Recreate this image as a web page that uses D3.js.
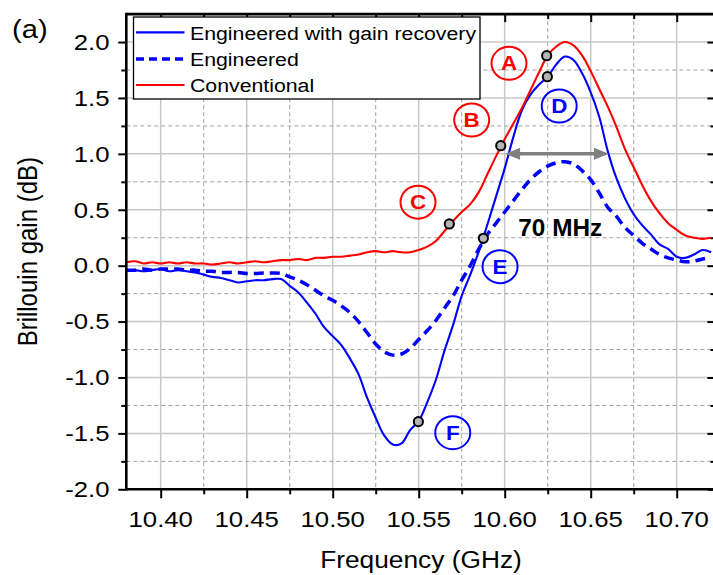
<!DOCTYPE html>
<html><head><meta charset="utf-8">
<script src="https://cdn.jsdelivr.net/npm/d3@7"></script>
<style>
body{margin:0;background:#fff}
svg{display:block}
text{font-family:"Liberation Sans",Arial,Helvetica,sans-serif}
</style>
</head><body>
<svg id="c" width="713" height="575"></svg>
<script>
// ---------------- data ----------------
const freq = [10.380,10.385,10.390,10.395,10.400,10.405,10.410,10.415,10.420,10.425,
  10.430,10.435,10.440,10.445,10.450,10.455,10.460,10.465,10.470,10.475,
  10.480,10.485,10.490,10.495,10.500,10.505,10.510,10.515,10.520,10.525,
  10.530,10.535,10.540,10.545,10.550,10.555,10.560,10.565,10.570,10.575,
  10.580,10.585,10.590,10.595,10.600,10.605,10.610,10.615,10.620,10.625,
  10.630,10.635,10.640,10.645,10.650,10.655,10.660,10.665,10.670,10.675,
  10.680,10.685,10.690,10.695,10.700,10.705,10.710,10.715,10.720];

const conventional = [0.03,0.04,0.02,0.03,0.02,0.03,0.02,0.03,0.02,0.02,
  0.01,0.02,0.03,0.02,0.03,0.04,0.03,0.04,0.05,0.05,
  0.06,0.05,0.07,0.07,0.08,0.08,0.09,0.10,0.12,0.13,
  0.12,0.13,0.12,0.12,0.14,0.17,0.22,0.31,0.40,0.48,
  0.55,0.66,0.82,0.98,1.13,1.27,1.41,1.57,1.73,1.88,
  1.96,2.00,1.97,1.88,1.74,1.58,1.42,1.24,1.04,0.88,
  0.72,0.58,0.47,0.38,0.32,0.27,0.25,0.24,0.25];

const engineeredRecovery = [-0.05,-0.04,-0.05,-0.04,-0.03,-0.05,-0.04,-0.05,-0.06,-0.08,
  -0.10,-0.11,-0.13,-0.15,-0.14,-0.13,-0.13,-0.12,-0.12,-0.18,
  -0.24,-0.33,-0.43,-0.55,-0.63,-0.71,-0.83,-0.97,-1.18,-1.36,
  -1.52,-1.60,-1.59,-1.47,-1.39,-1.22,-1.02,-0.76,-0.53,-0.27,
  -0.08,0.13,0.37,0.62,0.87,1.15,1.39,1.53,1.62,1.69,
  1.80,1.87,1.84,1.72,1.55,1.33,1.02,0.78,0.60,0.46,
  0.36,0.28,0.19,0.15,0.08,0.07,0.10,0.14,0.12];

const engineered = [-0.04,-0.04,-0.03,-0.04,-0.03,-0.03,-0.03,-0.04,-0.04,-0.05,
  -0.05,-0.06,-0.06,-0.06,-0.07,-0.07,-0.065,-0.065,-0.07,-0.10,
  -0.13,-0.17,-0.22,-0.27,-0.31,-0.36,-0.42,-0.50,-0.60,-0.70,
  -0.77,-0.80,-0.79,-0.74,-0.66,-0.58,-0.49,-0.38,-0.27,-0.13,
  0.00,0.15,0.28,0.38,0.48,0.58,0.68,0.77,0.84,0.89,
  0.92,0.93,0.91,0.85,0.77,0.65,0.52,0.44,0.34,0.27,
  0.20,0.15,0.10,0.07,0.05,0.035,0.04,0.06,0.07];

const seriesNames = ["Engineered with gain recovery", "Engineered", "Conventional"];

const xTicks = [10.40, 10.45, 10.50, 10.55, 10.60, 10.65, 10.70];
const xMinorTicks = [10.425, 10.475, 10.525, 10.575, 10.625, 10.675];
const yTicks = [-2.0, -1.5, -1.0, -0.5, 0.0, 0.5, 1.0, 1.5, 2.0];
const yMinorTicks = [-1.75, -1.25, -0.75, -0.25, 0.25, 0.75, 1.25, 1.75];

// highlighted points (GHz, dB)
const markerFreq = [10.6244, 10.6248, 10.5977, 10.5678, 10.5876, 10.5498];
const markerGain = [1.878, 1.690, 1.073, 0.373, 0.245, -1.395];

// circled letter labels
const labelText = ["A", "B", "C", "D", "E", "F"];
const labelFreq = [10.6025, 10.5808, 10.5496, 10.6317, 10.5973, 10.5698];
const labelGain = [1.810, 1.303, 0.568, 1.428, -0.009, -1.494];
const labelSeries = ["Conventional", "Conventional", "Conventional",
  "Engineered with gain recovery", "Engineered with gain recovery", "Engineered with gain recovery"];

// bandwidth arrow
const arrowFreq = [10.6002, 10.6606];
const arrowGain = 1.0;
const bandwidthText = "70 MHz";
const bandwidthPos = [10.6323, 0.264];

// ---------------- drawing ----------------
const RED = "#ff0000", BLUE = "#0000ff";
const colorOf = {"Engineered with gain recovery": BLUE, "Engineered": BLUE, "Conventional": RED};
const SX = 1.12; // horizontal stretch of lettering

const svg = d3.select("#c");
const x = d3.scaleLinear().domain([10.38, 10.7225]).range([126.3, 715.4]);
const y = d3.scaleLinear().domain([-2, 2.25]).range([489.3, 14.1]);
const [x0, x1] = x.range();
const [y0, y1] = y.range();

function stext(parent, px, py, str, size, anchor, weight, fill) {
  const g = parent.append("g").attr("transform", `translate(${px},${py}) scale(${SX},1)`);
  g.append("text").attr("text-anchor", anchor).attr("font-size", size)
    .attr("font-weight", weight || "normal").attr("fill", fill || "#000").text(str);
  return g;
}

// grid
const grid = svg.append("g");
grid.selectAll(".gxM").data(xTicks).join("line")
  .attr("x1", d => x(d)).attr("x2", d => x(d)).attr("y1", y1).attr("y2", y0)
  .attr("stroke", "#c8c8c8").attr("stroke-width", 1.5);
grid.selectAll(".gxm").data(xMinorTicks).join("line")
  .attr("x1", d => x(d)).attr("x2", d => x(d)).attr("y1", y1).attr("y2", y0)
  .attr("stroke", "#a0a0a0").attr("stroke-width", 1).attr("stroke-dasharray", "4,3");
grid.selectAll(".gyM").data(yTicks.filter(d => d > -2)).join("line")
  .attr("y1", d => y(d)).attr("y2", d => y(d)).attr("x1", x0).attr("x2", x1)
  .attr("stroke", "#c8c8c8").attr("stroke-width", 1.5);
grid.selectAll(".gym").data(yMinorTicks).join("line")
  .attr("y1", d => y(d)).attr("y2", d => y(d)).attr("x1", x0).attr("x2", x1)
  .attr("stroke", "#a0a0a0").attr("stroke-width", 1).attr("stroke-dasharray", "4,3");

// axes ticks
function tickAxis(axis, tr) {
  const g = svg.append("g").attr("transform", tr).call(axis);
  g.select(".domain").remove();
  g.selectAll(".tick line").attr("stroke", "#000").attr("stroke-width", 2);
  g.selectAll(".tick text").remove();
  return g;
}
tickAxis(d3.axisBottom(x).tickValues(xTicks).tickSize(9).tickSizeOuter(0), `translate(0,${y0})`);
tickAxis(d3.axisBottom(x).tickValues(xMinorTicks).tickSize(5).tickSizeOuter(0), `translate(0,${y0})`);
tickAxis(d3.axisTop(x).tickValues(xTicks).tickSize(-8).tickSizeOuter(0), `translate(0,${y1})`);
tickAxis(d3.axisTop(x).tickValues(xMinorTicks).tickSize(-5).tickSizeOuter(0), `translate(0,${y1})`);
tickAxis(d3.axisLeft(y).tickValues(yTicks).tickSize(8).tickSizeOuter(0), `translate(${x0},0)`);
tickAxis(d3.axisLeft(y).tickValues(yMinorTicks).tickSize(5).tickSizeOuter(0), `translate(${x0},0)`);
tickAxis(d3.axisRight(y).tickValues(yTicks).tickSize(-8).tickSizeOuter(0), `translate(${x1},0)`);
tickAxis(d3.axisRight(y).tickValues(yMinorTicks).tickSize(-5).tickSizeOuter(0), `translate(${x1},0)`);

// tick labels
const lab = svg.append("g");
xTicks.forEach(v => stext(lab, x(v), 527, v.toFixed(2), 23, "middle"));
yTicks.forEach(v => stext(lab, 109.5, y(v) + 7.8, v.toFixed(1), 23, "end"));

// axis titles
stext(svg, 421, 568, "Frequency (GHz)", 23.5, "middle");
svg.append("g").attr("transform", `translate(36.5,${(y0 + y1) / 2}) scale(${SX},1) rotate(-90)`)
  .append("text").attr("text-anchor", "middle").attr("font-size", 24).text("Brillouin gain (dB)");
stext(svg, 12, 37.5, "(a)", 26, "start");

// legend
const leg = svg.append("g");
leg.append("rect").attr("x", 133.5).attr("y", 17).attr("width", 346.5).attr("height", 82)
  .attr("fill", "#fff").attr("stroke", "#000").attr("stroke-width", 1.3);
const legY = [32.3, 59, 85];
seriesNames.forEach((name, i) => {
  leg.append("line").attr("x1", 136).attr("x2", 184.5).attr("y1", legY[i]).attr("y2", legY[i])
    .attr("stroke", colorOf[name]).attr("stroke-width", name === "Engineered" ? 3.5 : 2.2)
    .attr("stroke-dasharray", name === "Engineered" ? "8,5" : null);
  stext(leg, 190, legY[i] + 7.2, name, 19, "start");
});

// curves
svg.append("clipPath").attr("id", "clip").append("rect")
  .attr("x", x0).attr("y", y1).attr("width", x1 - x0).attr("height", y0 - y1);
const plot = svg.append("g").attr("clip-path", "url(#clip)");
const line = d3.line().x(d => x(d[0])).y(d => y(d[1])).curve(d3.curveCatmullRom.alpha(0.5));
const series = {
  "Engineered": engineered,
  "Engineered with gain recovery": engineeredRecovery,
  "Conventional": conventional
};
["Engineered", "Engineered with gain recovery", "Conventional"].forEach(name => {
  plot.append("path").datum(freq.map((f, i) => [f, series[name][i]]))
    .attr("d", line).attr("fill", "none").attr("stroke", colorOf[name])
    .attr("stroke-width", name === "Engineered" ? 3.5 : 2.1)
    .attr("stroke-dasharray", name === "Engineered" ? "10,6" : null)
    .attr("stroke-linejoin", "round");
});

// bandwidth arrow
const ag = svg.append("g");
const ax1 = x(arrowFreq[0]), ax2 = x(arrowFreq[1]), ay = y(arrowGain);
const AC = "#808080", HL = 15, HW = 6;
ag.append("line").attr("x1", ax1 + HL - 2).attr("x2", ax2 - HL + 2).attr("y1", ay).attr("y2", ay)
  .attr("stroke", AC).attr("stroke-width", 3.5);
ag.append("path").attr("d", `M${ax1},${ay}L${ax1 + HL},${ay - HW}L${ax1 + HL},${ay + HW}Z`).attr("fill", AC);
ag.append("path").attr("d", `M${ax2},${ay}L${ax2 - HL},${ay - HW}L${ax2 - HL},${ay + HW}Z`).attr("fill", AC);
const bt = svg.append("g").attr("transform", `translate(${x(bandwidthPos[0])},${y(bandwidthPos[1])}) scale(1.06,1)`);
bt.append("text").attr("text-anchor", "middle").attr("font-size", 23).attr("font-weight", "bold").text(bandwidthText);

// circled labels
labelText.forEach((t, i) => {
  const cx = x(labelFreq[i]), cy = y(labelGain[i]), col = colorOf[labelSeries[i]];
  svg.append("ellipse").attr("cx", cx).attr("cy", cy).attr("rx", 17.5).attr("ry", 16.5)
    .attr("fill", "none").attr("stroke", col).attr("stroke-width", 2);
  stext(svg, cx, cy + 7.2, t, 20, "middle", "bold", col);
});

// markers
svg.selectAll(".mk").data(markerFreq).join("circle")
  .attr("cx", d => x(d)).attr("cy", (d, i) => y(markerGain[i])).attr("r", 4.6)
  .attr("fill", "#b4b4b4").attr("stroke", "#000").attr("stroke-width", 2);

// frame
const fr = svg.append("g").attr("stroke", "#000").attr("stroke-width", 2.6);
fr.append("line").attr("x1", x0).attr("x2", x1).attr("y1", y1).attr("y2", y1);
fr.append("line").attr("x1", x0).attr("x2", x1).attr("y1", y0).attr("y2", y0);
fr.append("line").attr("x1", x0).attr("x2", x0).attr("y1", y1 - 1.3).attr("y2", y0 + 1.3);
fr.append("line").attr("x1", x1).attr("x2", x1).attr("y1", y1).attr("y2", y0);
</script>
</body></html>
